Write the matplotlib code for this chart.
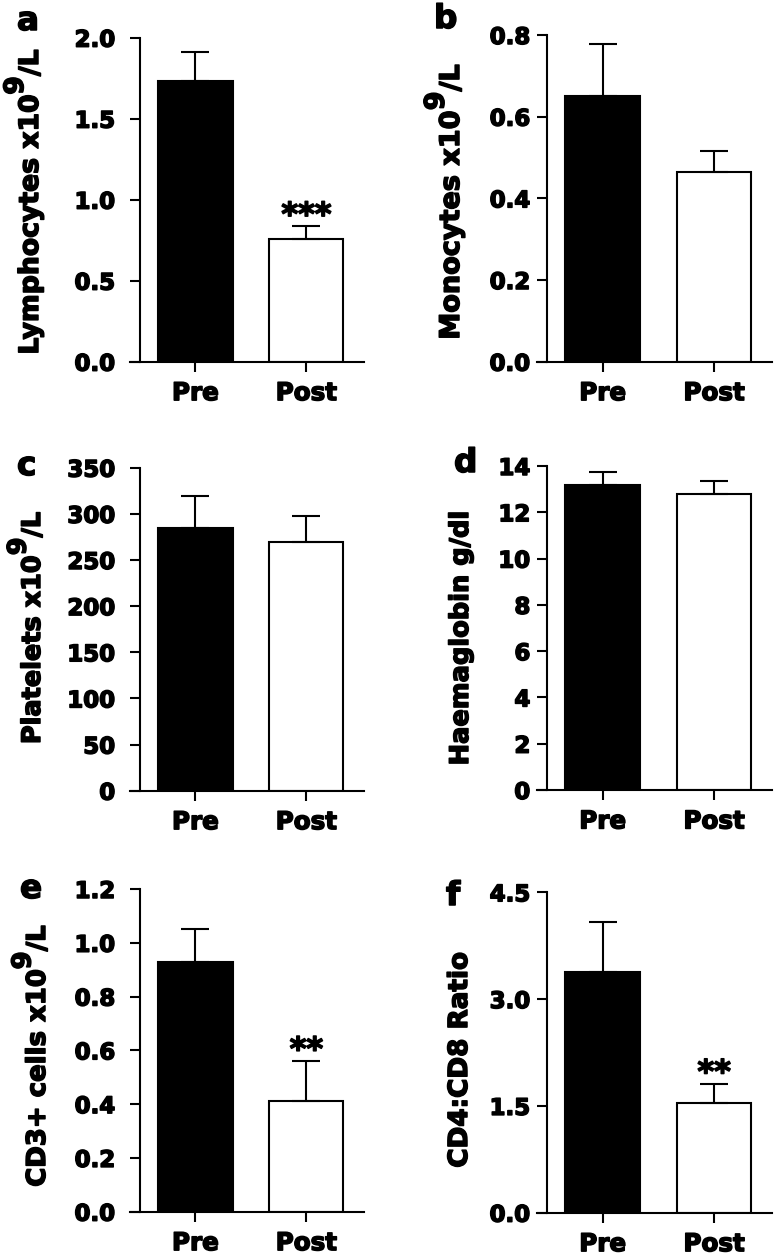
import matplotlib
matplotlib.use('Agg')
import matplotlib.pyplot as plt
import matplotlib.patheffects as pe
import numpy as np

W, H = 774, 1254

categories = ['Pre', 'Post']

lymph_mean = [1.73, 0.76]
lymph_sem = [0.18, 0.075]
mono_mean = [0.65, 0.465]
mono_sem = [0.128, 0.052]
plat_mean = [285, 269.5]
plat_sem = [34, 28]
hb_mean = [13.2, 12.8]
hb_sem = [0.53, 0.57]
cd3_mean = [0.93, 0.41]
cd3_sem = [0.12, 0.15]
ratio_mean = [3.38, 1.54]
ratio_sem = [0.70, 0.27]

lymph_ticks = [0.0, 0.5, 1.0, 1.5, 2.0]
mono_ticks = [0.0, 0.2, 0.4, 0.6, 0.8]
plat_ticks = [0, 50, 100, 150, 200, 250, 300, 350]
hb_ticks = [0, 2, 4, 6, 8, 10, 12, 14]
cd3_ticks = [0.0, 0.2, 0.4, 0.6, 0.8, 1.0, 1.2]
ratio_ticks = [0.0, 1.5, 3.0, 4.5]

plt.rcParams['font.family'] = ['DejaVu Sans']
plt.rcParams['font.weight'] = 'bold'

# heavier glyphs, like the original artwork
heavy = [pe.withStroke(linewidth=1.1, foreground='black')]

fig = plt.figure(figsize=(W / 100, H / 100), dpi=100)

# letter, means, sems, ticks, tick format, stars, label parts, label size,
# axes box (px), label baseline x / centre y, letter pos, tick label pad (px)
panels = [
    ('a', lymph_mean, lymph_sem, lymph_ticks, '{:.1f}', '***',
     ['Lymphocytes x10', '9', '/L'], 19.2,
     (130, 364, 37.7, 361.7), (38, 202), (17, 30), 15),
    ('b', mono_mean, mono_sem, mono_ticks, '{:.1f}', '',
     ['Monocytes x10', '9', '/L'], 19.5,
     (537, 772, 35, 361.7), (459, 202), (434, 28), 7),
    ('c', plat_mean, plat_sem, plat_ticks, '{:d}', '',
     ['Platelets x10', '9', '/L'], 18.4,
     (130, 364, 467.7, 790.7), (40, 628), (17, 475), 15),
    ('d', hb_mean, hb_sem, hb_ticks, '{:d}', '',
     ['Haemaglobin g/dl'], 18.5,
     (537, 772, 466, 790), (468, 638), (454, 472), 7),
    ('e', cd3_mean, cd3_sem, cd3_ticks, '{:.1f}', '**',
     ['CD3+ cells x10', '9', '/L'], 18.7,
     (130, 364, 889, 1211.7), (45, 1056), (20, 898), 15),
    ('f', ratio_mean, ratio_sem, ratio_ticks, '{:.1f}', '**',
     ['CD4:CD8 Ratio'], 18.9,
     (537, 772, 892.3, 1212.7), (467, 1060), (446, 905), 7),
]

renderer = fig.canvas.get_renderer()
lw = 1.5
x = np.arange(len(categories))

for letter, mean, sem, ticks, fmt, star, parts, size, geom, lab, let_pos, pad in panels:
    l, r, t, b = geom
    ax = fig.add_axes([l / W, 1 - b / H, (r - l) / W, (b - t) / H])
    ax.bar(x, mean, width=0.67, color=['black', 'white'], edgecolor='black',
           linewidth=lw, zorder=2)
    ax.errorbar(x, mean, yerr=[[0, 0], sem], fmt='none', ecolor='black',
                elinewidth=lw, capsize=10, capthick=lw, zorder=3)
    ax.set_xlim(-0.59, 1.52)
    ax.set_ylim(0, ticks[-1])
    ax.set_yticks(ticks)
    ax.set_yticklabels([fmt.format(v) for v in ticks])
    ax.set_xticks(x)
    ax.set_xticklabels(categories)
    ax.spines['top'].set_visible(False)
    ax.spines['right'].set_visible(False)
    ax.spines['left'].set_position(('data', -0.5))
    for s in ('left', 'bottom'):
        ax.spines[s].set_linewidth(lw)
    ax.tick_params(axis='y', length=7, width=lw, labelsize=16.5, pad=pad * 0.72)
    ax.tick_params(axis='x', length=7, width=lw, labelsize=17.7, pad=7)
    for lbl in ax.get_xticklabels() + ax.get_yticklabels():
        lbl.set_fontweight('bold')
        lbl.set_path_effects(heavy)
    if star:
        ax.annotate(star, (1, mean[1] + sem[1]), xytext=(0, 1),
                    textcoords='offset points', ha='center', va='baseline',
                    fontsize=23, fontweight='bold', path_effects=heavy)

    # panel letter
    fig.text(let_pos[0] / W, 1 - let_pos[1] / H, letter, fontsize=23.5,
             fontweight='bold', ha='left', va='baseline', path_effects=heavy)

    # y label built from pieces so the raised 9 stays full size
    em = size / 0.72
    widths = []
    for s in parts:
        tmp = fig.text(0, 0, s, fontsize=size, fontweight='bold')
        widths.append(tmp.get_window_extent(renderer).width)
        tmp.remove()
    y0 = (H - lab[1]) - sum(widths) / 2
    for s, w in zip(parts, widths):
        rs = 0.56 * em if s == '9' else 0
        fig.text((lab[0] - rs) / W, y0 / H, s, rotation=90,
                 rotation_mode='anchor', ha='left', va='baseline',
                 fontsize=size, fontweight='bold', path_effects=heavy)
        y0 += w

fig.savefig('out.png', dpi=100)
